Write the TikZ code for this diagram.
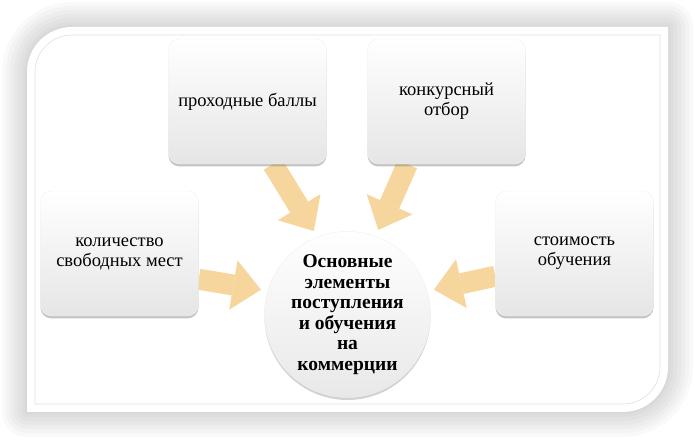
\documentclass[tikz,border=0pt]{standalone}
\usepackage{fontspec}
\setmainfont{Liberation Serif}
\usetikzlibrary{arrows.meta,shadows}
\definecolor{arrowtan}{RGB}{246,214,156}
\pgfdeclarelayer{bg}
\pgfsetlayers{bg,main}

\begin{document}
\begin{tikzpicture}[x=1pt,y=1pt,font=\fontsize{18.5}{20}\selectfont,
  box/.style={rounded corners=11pt,align=center,minimum width=158pt,minimum height=125pt,
    top color=white,bottom color=black!10,draw=black!6,
    drop shadow={opacity=0.45,shadow xshift=0pt,shadow yshift=-2.5pt}},
  hub/.style={circle,minimum size=166pt,inner sep=0pt,outer sep=7pt,align=center,
    top color=white,bottom color=black!9,draw=black!6,
    drop shadow={opacity=0.35,shadow xshift=0pt,shadow yshift=-2.5pt},
    font=\fontsize{19.5}{20.5}\selectfont\bfseries},
  flow/.style={line width=21pt,draw=arrowtan,
    -{Triangle[length=28pt,width=50pt,line width=0pt]}}]
\useasboundingbox (0,0) rectangle (695,441);

\node[hub] (ce) at (347.5,126.5) {Основные\\элементы\\поступления\\и обучения\\на\\коммерции};
\node[box] (pb) at (247.5,339.5) {проходные баллы};
\node[box] (ko) at (446.5,339.5) {конкурсный\\отбор};
\node[box] (km) at (119.5,187.5) {количество\\свободных мест};
\node[box] (so) at (574.5,187.5) {стоимость\\обучения};

\begin{pgfonlayer}{bg}
% panel with soft glow
\foreach \w in {50,42,34,26,18,10,4}
  \draw[line width=\w pt,black,opacity=0.022,line join=round]
    (27,29) -- (27,369) arc[start angle=180,end angle=90,radius=45] -- (668,414)
    -- (668,74) arc[start angle=0,end angle=-90,radius=45] -- cycle;
\fill[white] (27,29) -- (27,369) arc[start angle=180,end angle=90,radius=45] -- (668,414)
  -- (668,74) arc[start angle=0,end angle=-90,radius=45] -- cycle;
\draw[black!12,line width=0.6pt] (35,37) -- (35,369) arc[start angle=180,end angle=90,radius=37]
  -- (660,406) -- (660,74) arc[start angle=0,end angle=-90,radius=37] -- cycle;
% arrows to the centre
\draw[flow] (pb.-68) -- (ce.112);
\draw[flow] (ko.-122) -- (ce.70);
\draw[flow] (km.-18) -- (ce.164);
\draw[flow] (so.196) -- (ce.16);
\end{pgfonlayer}
\end{tikzpicture}
\end{document}
